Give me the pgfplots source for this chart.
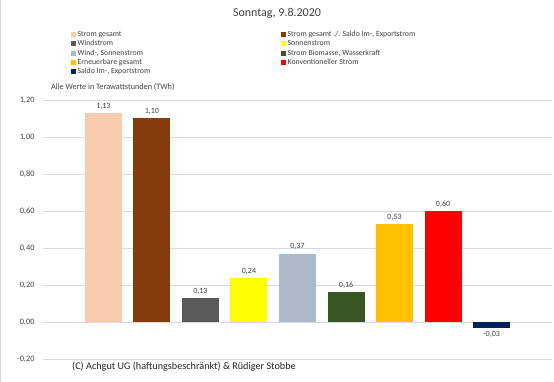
\documentclass[border=0pt]{standalone}
\usepackage{pgfplots}
\pgfplotsset{compat=1.18}
\usepackage{fontspec}
\setmainfont{Carlito}
\definecolor{c1}{HTML}{F8CBAD}
\definecolor{c2}{HTML}{843C0C}
\definecolor{c3}{HTML}{595959}
\definecolor{c4}{HTML}{FFFF00}
\definecolor{c5}{HTML}{ADB9CA}
\definecolor{c6}{HTML}{375623}
\definecolor{c7}{HTML}{FFC000}
\definecolor{c8}{HTML}{FF0000}
\definecolor{c9}{HTML}{002060}
\definecolor{txt}{HTML}{404040}
\definecolor{grd}{HTML}{D9D9D9}
\begin{document}
\begin{tikzpicture}
\useasboundingbox (0,0) rectangle (554pt,382pt);
\fill[white] (0,0) rectangle (554pt,382pt);
\draw[grd, line width=1pt] (0.5pt,0) -- (0.5pt,382pt);
\begin{axis}[
  at={(43pt,23pt)}, anchor=south west,
  scale only axis, width=509pt, height=259pt,
  xmin=-1.245, xmax=9.245, ymin=-0.2, ymax=1.2,
  ybar, bar width=37pt, bar shift=0pt,
  xtick=\empty,
  ytick={-0.2,0,0.2,0.4,0.6,0.8,1.0,1.2},
  ymajorgrids, grid style={grd, line width=0.8pt},
  axis line style={draw=none}, tick style={draw=none},
  yticklabel style={font=\fontsize{8.3}{9}\selectfont, color=txt, xshift=-5pt,
    /pgf/number format/.cd, fixed, fixed zerofill, precision=2, use comma, assume math mode=true},
  nodes near coords,
  nodes near coords style={font=\fontsize{8}{9}\selectfont, color=txt,
    /pgf/number format/.cd, fixed, fixed zerofill, precision=2, use comma, assume math mode=true},
  legend columns=2,
  legend image code/.code={\fill[#1] (0pt,-2.5pt) rectangle (5pt,2.5pt);},
  legend style={at={(0.049,1.276)}, anchor=north west, draw=none, fill=none,
    font=\fontsize{7.8}{8.5}\selectfont, text=txt, row sep=1.3pt,
    nodes={inner ysep=0.5pt, inner xsep=1.5pt}},
  legend cell align=left,
]
\addplot[fill=c1, draw=none] coordinates {(0,1.13)};
\addlegendentry{\makebox[202pt][l]{Strom gesamt}}
\addplot[fill=c2, draw=none] coordinates {(1,1.10)};
\addlegendentry{Strom gesamt ./. Saldo Im-, Exportstrom}
\addplot[fill=c3, draw=none] coordinates {(2,0.13)};
\addlegendentry{\makebox[202pt][l]{Windstrom}}
\addplot[fill=c4, draw=none] coordinates {(3,0.24)};
\addlegendentry{Sonnenstrom}
\addplot[fill=c5, draw=none] coordinates {(4,0.37)};
\addlegendentry{\makebox[202pt][l]{Wind-, Sonnenstrom}}
\addplot[fill=c6, draw=none] coordinates {(5,0.16)};
\addlegendentry{Strom Biomasse, Wasserkraft}
\addplot[fill=c7, draw=none] coordinates {(6,0.53)};
\addlegendentry{\makebox[202pt][l]{Erneuerbare gesamt}}
\addplot[fill=c8, draw=none] coordinates {(7,0.60)};
\addlegendentry{Konventioneller Strom}
\addplot[fill=c9, draw=none] coordinates {(8,-0.03)};
\addlegendentry{\makebox[202pt][l]{Saldo Im-, Exportstrom}}
\end{axis}
\node[color=txt, font=\fontsize{12}{14}\selectfont] at (277pt,369pt) {Sonntag, 9.8.2020};
\node[color=txt, font=\fontsize{8.2}{9}\selectfont, anchor=west, inner sep=0pt] at (51pt,295pt) {Alle Werte in Terawattstunden (TWh)};
\node[color=black!85, font=\fontsize{10.2}{12}\selectfont, anchor=west, inner sep=0pt] at (72pt,15pt) {(C) Achgut UG (haftungsbeschränkt) \& Rüdiger Stobbe};
\end{tikzpicture}
\end{document}
